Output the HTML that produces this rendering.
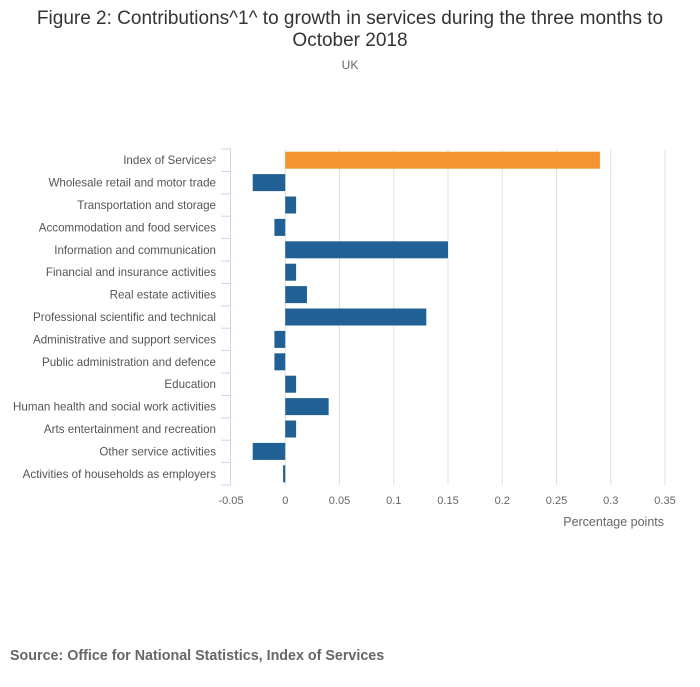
<!DOCTYPE html>
<html><head><meta charset="utf-8"><style>
body{margin:0;background:#fff;font-family:"Liberation Sans",sans-serif;}
svg text{font-family:"Liberation Sans",sans-serif;}
</style></head><body>
<svg width="700" height="682" id="c">
<text x="350" y="24" text-anchor="middle" font-size="19" fill="#333">Figure 2: Contributions^1^ to growth in services during the three months to</text>
<text x="350" y="46" text-anchor="middle" font-size="19" fill="#333">October 2018</text>
<text x="350" y="69" text-anchor="middle" font-size="12" fill="#666">UK</text>
<text x="664" y="526" text-anchor="end" font-size="12.5" fill="#666">Percentage points</text>
<text x="10" y="660" font-size="14.3" font-weight="bold" fill="#666">Source: Office for National Statistics, Index of Services</text>
<g id="g"></g>
</svg>
<script>
const categories=["Index of Services²","Wholesale retail and motor trade","Transportation and storage","Accommodation and food services","Information and communication","Financial and insurance activities","Real estate activities","Professional scientific and technical","Administrative and support services","Public administration and defence","Education","Human health and social work activities","Arts entertainment and recreation","Other service activities","Activities of households as employers"];
const values=[0.29,-0.03,0.01,-0.01,0.15,0.01,0.02,0.13,-0.01,-0.01,0.01,0.04,0.01,-0.03,-0.002];
const ticks=[-0.05,0,0.05,0.1,0.15,0.2,0.25,0.3,0.35];
const tickLabels=["-0.05","0","0.05","0.1","0.15","0.2","0.25","0.3","0.35"];
const NS="http://www.w3.org/2000/svg",g=document.getElementById('g');
const xLeft=231,xRight=665,yTop=149,yBot=485,rh=(yBot-yTop)/categories.length;
const X=v=>xLeft+(v+0.05)/(0.4)*(xRight-xLeft);
function el(t,a){const e=document.createElementNS(NS,t);for(const k in a)e.setAttribute(k,a[k]);g.appendChild(e);return e;}
ticks.forEach((t,i)=>{
 if(i>0){const l=el('line',{x1:X(t),x2:X(t),y1:yTop,y2:yBot,stroke:'#e0e0e0'});
 
 }
 const tx=el('text',{x:X(t),y:504,'text-anchor':'middle','font-size':11,fill:'#666'});tx.textContent=tickLabels[i];
 
 
});
const ax=el('line',{x1:xLeft-0.5,x2:xLeft-0.5,y1:yTop,y2:yBot,stroke:'#ccd6eb'});


for(let i=0;i<=categories.length;i++){const y=yTop+i*rh;const t=el('line',{x1:xLeft-10,x2:xLeft,y1:y,y2:y,stroke:'#ccd6eb'});
 
 }
categories.forEach((c,i)=>{
 const cy=yTop+rh*(i+0.5);
 const tx=el('text',{x:216,y:cy+4,'text-anchor':'end','font-size':11.6,fill:'#555'});tx.textContent=c;
 
 
 const v=values[i],a=X(0),b=X(v);
 const r=el('rect',{x:Math.min(a,b),y:cy-8.5,width:Math.max(1,Math.abs(b-a)),height:17,fill:i==0?'#f39431':'#206095'});
 
 
});
</script>
</body></html>
